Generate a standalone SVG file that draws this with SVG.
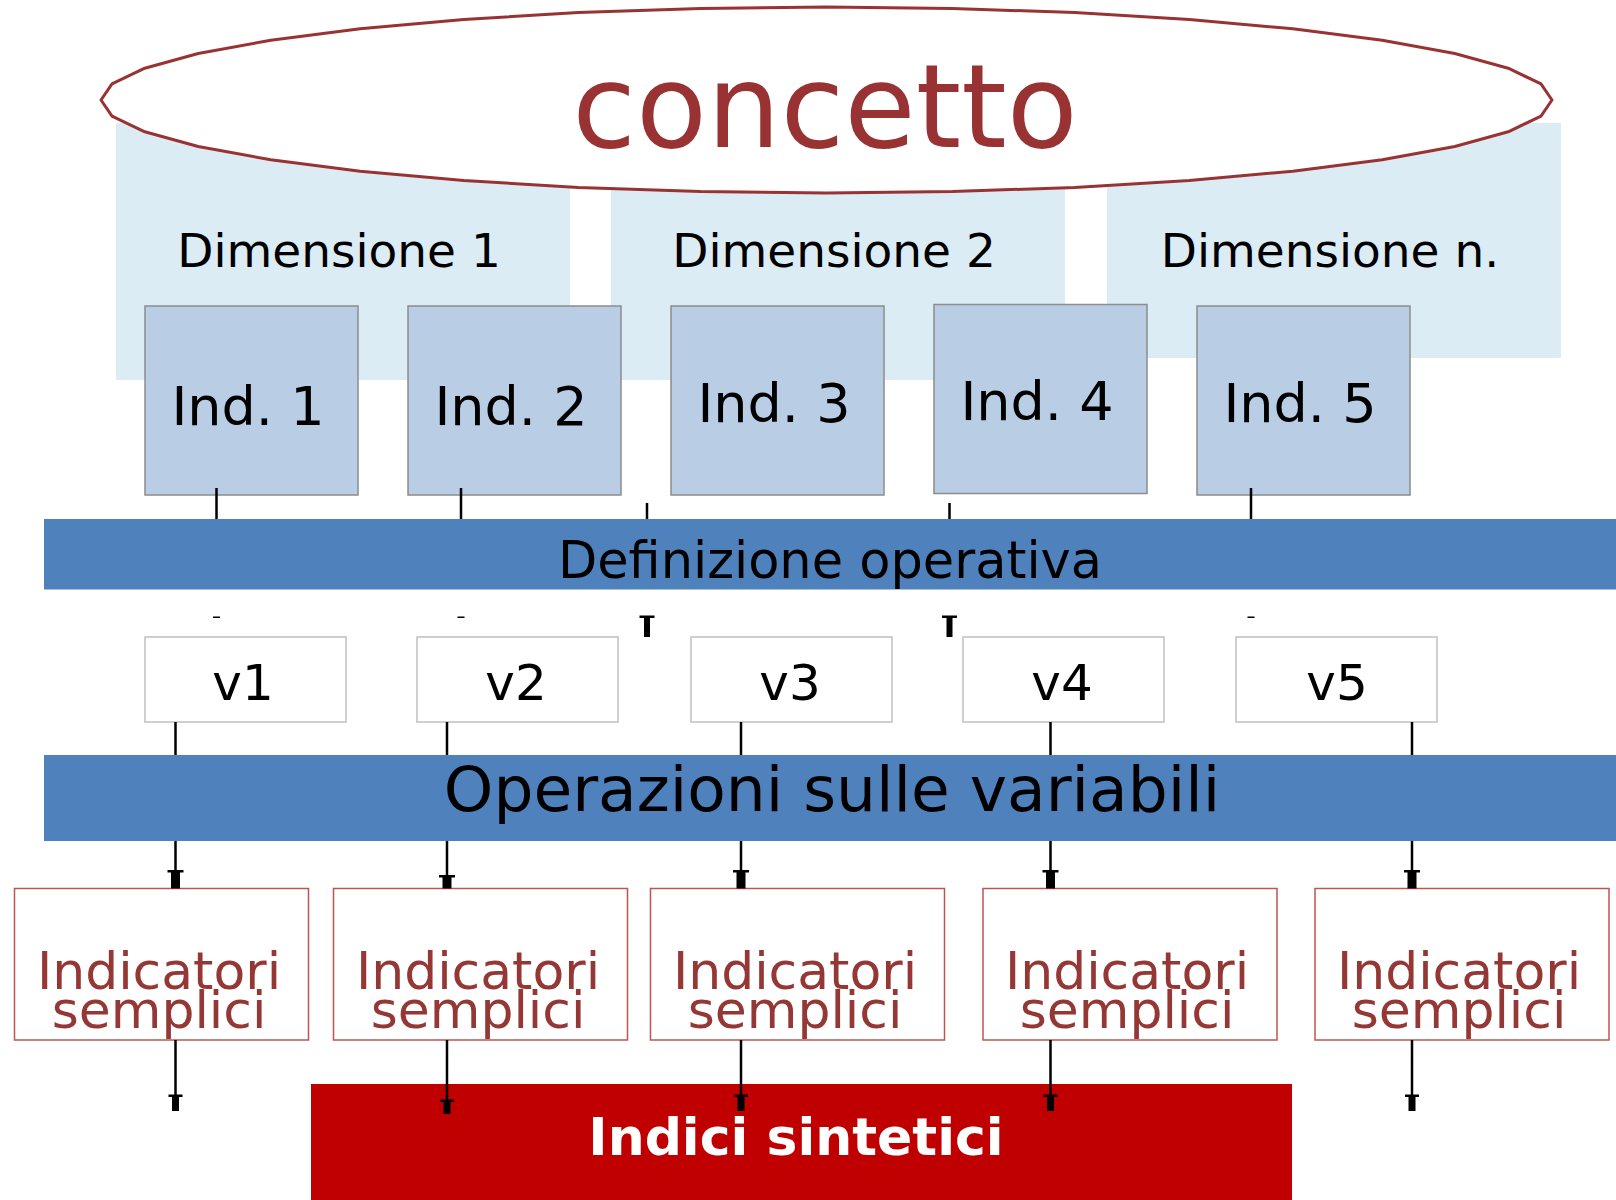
<svg xmlns="http://www.w3.org/2000/svg" width="1616" height="1200" viewBox="0 0 1616 1200">
<style>
text{font-family:"DejaVu Sans","Verdana","Liberation Sans",sans-serif;}
.dim{fill:#DBECF4;}
.dimt{font-size:47px;fill:#000;text-anchor:middle;}
.ind{fill:#B9CDE5;stroke:#8C8C8C;stroke-width:1.5;}
.indt{font-size:54px;fill:#000;text-anchor:middle;}
.bar{fill:#4F81BD;}
.vb{fill:#fff;stroke:#C0C0C0;stroke-width:1.5;}
.vt{font-size:50px;fill:#000;text-anchor:middle;}
.is{fill:#fff;stroke:#BE5450;stroke-width:1.5;}
.ist{font-size:52px;fill:#953735;text-anchor:middle;}
.ln{stroke:#000;stroke-width:2.5;fill:none;}
.hd{fill:#000;}
</style>
<rect width="1616" height="1200" fill="#fff"/>

<g id="dim1"><rect class="dim" x="116" y="123" width="454" height="257"/><text class="dimt" x="339" y="267">Dimensione 1</text></g>
<g id="dim2"><rect class="dim" x="611" y="123" width="454" height="257"/><text class="dimt" x="834" y="267">Dimensione 2</text></g>
<g id="dimn"><rect class="dim" x="1107" y="123" width="454" height="235"/><text class="dimt" x="1330" y="267">Dimensione n.</text></g>

<g id="concetto">
<polygon fill="#fff" stroke="#993333" stroke-width="3" stroke-linejoin="round" points="1552,100 1541,83.9 1508.2,68.2 1454.8,53.5 1382.2,40.2 1292.8,28.8 1189.3,19.5 1074.6,12.6 952.4,8.4 826.5,7 700.6,8.4 578.4,12.6 463.8,19.5 360.2,28.8 270.8,40.2 198.2,53.5 144.8,68.2 112,83.9 101,100 112,116.1 144.8,131.8 198.2,146.5 270.8,159.8 360.2,171.2 463.8,180.5 578.4,187.4 700.6,191.6 826.5,193 952.4,191.6 1074.6,187.4 1189.3,180.5 1292.8,171.2 1382.2,159.8 1454.8,146.5 1508.2,131.8 1541,116.1"/>
<text x="825" y="147" font-size="116" fill="#993333" text-anchor="middle">concetto</text>
</g>

<g id="ind1"><rect class="ind" x="145" y="306" width="213" height="189"/><text class="indt" x="248" y="425">Ind. 1</text></g>
<g id="ind2"><rect class="ind" x="408" y="306" width="213" height="189"/><text class="indt" x="511" y="425">Ind. 2</text></g>
<g id="ind3"><rect class="ind" x="671" y="306" width="213" height="189"/><text class="indt" x="774" y="422">Ind. 3</text></g>
<g id="ind4"><rect class="ind" x="934" y="304.5" width="213" height="189"/><text class="indt" x="1037" y="420">Ind. 4</text></g>
<g id="ind5"><rect class="ind" x="1197" y="306" width="213" height="189"/><text class="indt" x="1300" y="422">Ind. 5</text></g>

<g id="v1"><rect class="vb" x="145" y="637" width="201" height="85"/><text class="vt" x="243" y="700">v1</text></g>
<g id="v2"><rect class="vb" x="417" y="637" width="201" height="85"/><text class="vt" x="516" y="700">v2</text></g>
<g id="v3"><rect class="vb" x="691" y="637" width="201" height="85"/><text class="vt" x="790" y="700">v3</text></g>
<g id="v4"><rect class="vb" x="963" y="637" width="201" height="85"/><text class="vt" x="1062" y="700">v4</text></g>
<g id="v5"><rect class="vb" x="1236" y="637" width="201" height="85"/><text class="vt" x="1337" y="700">v5</text></g>

<g id="is1"><rect class="is" x="14.5" y="888.5" width="294" height="151.5"/><text class="ist" x="159" y="989">Indicatori</text><text class="ist" x="159" y="1027.5">semplici</text></g>
<g id="is2"><rect class="is" x="333.5" y="888.5" width="294" height="151.5"/><text class="ist" x="478" y="989">Indicatori</text><text class="ist" x="478" y="1027.5">semplici</text></g>
<g id="is3"><rect class="is" x="650.5" y="888.5" width="294" height="151.5"/><text class="ist" x="795" y="989">Indicatori</text><text class="ist" x="795" y="1027.5">semplici</text></g>
<g id="is4"><rect class="is" x="983" y="888.5" width="294" height="151.5"/><text class="ist" x="1127" y="989">Indicatori</text><text class="ist" x="1127" y="1027.5">semplici</text></g>
<g id="is5"><rect class="is" x="1315" y="888.5" width="294" height="151.5"/><text class="ist" x="1459" y="989">Indicatori</text><text class="ist" x="1459" y="1027.5">semplici</text></g>

<g id="indici"><rect x="311" y="1084" width="981" height="116" fill="#C00000"/><text x="796" y="1155" font-size="52" font-weight="bold" fill="#fff" text-anchor="middle">Indici sintetici</text></g>

<g id="connectors">
<path class="ln" d="M216.5 488V519M461 488V519M647 503V519M949.5 503V519M1251 488V519"/>
<rect class="hd" x="213" y="616.5" width="7" height="1.5"/>
<rect class="hd" x="457.5" y="616.5" width="7" height="1.5"/>
<rect class="hd" x="1247.5" y="616.5" width="7" height="1.5"/>
<path class="hd" d="M639.5 615.5h15v2.5h-4.5v19h-6v-19h-4.5z"/>
<path class="hd" d="M942 615.5h15v2.5h-4.5v19h-6v-19h-4.5z"/>

<path class="ln" d="M175.5 722V755M447 722V755M741 722V755M1050.5 722V755M1412 722V755"/>
<path class="ln" d="M175.5 841V872M447 841V877M741 841V872M1050.5 841V872M1412 841V872"/>
<path class="hd" d="M167.5 870h16v2.5h-3.5v16h-9v-16h-3.5z"/>
<path class="hd" d="M439 875h16v2.5h-3.5v11h-9v-11h-3.5z"/>
<path class="hd" d="M733 870h16v2.5h-3.5v16h-9v-16h-3.5z"/>
<path class="hd" d="M1042.5 870h16v2.5h-3.5v16h-9v-16h-3.5z"/>
<path class="hd" d="M1404 870h16v2.5h-3.5v16h-9v-16h-3.5z"/>

<path class="ln" d="M175.5 1040V1096M447 1040V1101M741 1040V1096M1050.5 1040V1096M1412 1040V1096"/>
<path class="hd" d="M168.5 1094.5h14v2.5h-3.5v14h-7v-14h-3.5z"/>
<path class="hd" d="M440 1099.5h14v2.5h-3.5v12h-7v-12h-3.5z"/>
<path class="hd" d="M734 1094.5h14v2.5h-3.5v14h-7v-14h-3.5z"/>
<path class="hd" d="M1043.5 1094.5h14v2.5h-3.5v14h-7v-14h-3.5z"/>
<path class="hd" d="M1405 1094.5h14v2.5h-3.5v14h-7v-14h-3.5z"/>
</g>

<g id="defop"><rect class="bar" x="44" y="519" width="1572" height="70.5"/><text x="830" y="577.5" font-size="51" fill="#000" text-anchor="middle">Definizione operativa</text></g>
<g id="opvar"><rect class="bar" x="44" y="755" width="1572" height="86"/><text x="832" y="811" font-size="63" fill="#000" text-anchor="middle">Operazioni sulle variabili</text></g>
</svg>
